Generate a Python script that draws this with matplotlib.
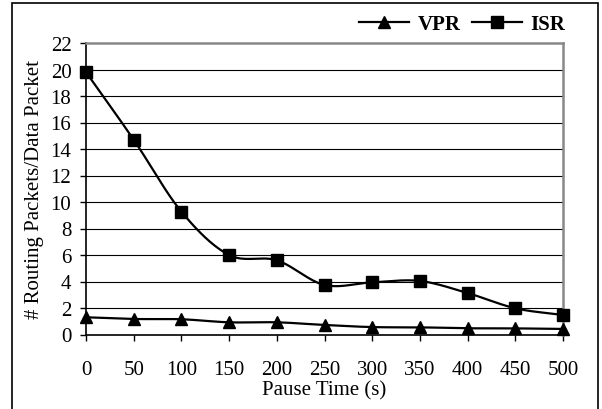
import numpy as np
import matplotlib
matplotlib.use("Agg")
import matplotlib.pyplot as plt
from matplotlib.patches import Rectangle
from matplotlib.lines import Line2D

pause_time = [0, 50, 100, 150, 200, 250, 300, 350, 400, 450, 500]
vpr = [1.30, 1.17, 1.15, 0.92, 0.92, 0.72, 0.56, 0.54, 0.47, 0.46, 0.42]
isr = [19.8, 14.7, 9.27, 6.0, 5.6, 3.74, 3.94, 4.04, 3.13, 1.98, 1.47]
y_ticks = list(range(0, 23, 2))

plt.rcParams['font.family'] = ['Liberation Serif', 'DejaVu Serif']
FS = 15

def smooth(x, y, n=20):
    # Catmull-Rom style smoothing for drawing (Excel "smoothed line")
    x = np.asarray(x, float); y = np.asarray(y, float)
    px = np.concatenate([[2*x[0]-x[1]], x, [2*x[-1]-x[-2]]])
    py = np.concatenate([[2*y[0]-y[1]], y, [2*y[-1]-y[-2]]])
    xs, ys = [], []
    for i in range(1, len(px)-2):
        t = np.linspace(0, 1, n, endpoint=False)
        for arr, out in ((px, xs), (py, ys)):
            p0, p1, p2, p3 = arr[i-1], arr[i], arr[i+1], arr[i+2]
            out.extend(0.5*((2*p1) + (-p0+p2)*t + (2*p0-5*p1+4*p2-p3)*t**2 + (-p0+3*p1-3*p2+p3)*t**3))
    xs.append(x[-1]); ys.append(y[-1])
    return np.array(xs), np.array(ys)

fig = plt.figure(figsize=(6.02, 4.10), dpi=100)
ax = fig.add_axes([86/602, 1-335.5/410, (563-86)/602, (335.5-44)/410])

for ys, mk in ((vpr, '^'), (isr, 's')):
    sx, sy = smooth(pause_time, ys)
    ax.plot(sx, sy, color='black', lw=1.6, zorder=3, clip_on=False)
    ax.plot(pause_time, ys, linestyle='none', marker=mk, color='black', ms=9, zorder=4, clip_on=False)

ax.set_xlim(0, 500)
ax.set_ylim(0, 22)
ax.set_xticks(pause_time)
ax.set_xticklabels([str(v) for v in pause_time])
ax.set_yticks(y_ticks)
ax.set_yticklabels([str(v) for v in y_ticks])
ax.tick_params(axis='both', direction='out', length=4.5, width=1, color='black', labelsize=FS)
ax.tick_params(axis='x', pad=14)
ax.tick_params(axis='y', pad=6)
for v in y_ticks[1:-1]:
    ax.axhline(v, color='black', lw=0.8, zorder=1)
ax.spines['top'].set_color('#888888')
ax.spines['right'].set_color('#888888')
ax.spines['top'].set_linewidth(1.8)
ax.spines['right'].set_linewidth(1.8)
ax.spines['left'].set_linewidth(1.2)
ax.spines['bottom'].set_linewidth(1.2)

ax.set_xlabel('Pause Time (s)', fontsize=FS, labelpad=1)
ax.set_ylabel('# Routing Packets/Data Packet', fontsize=FS, labelpad=5)

handles = [Line2D([], [], color='black', marker='^', ms=9, lw=1.6),
           Line2D([], [], color='black', marker='s', ms=9, lw=1.6)]
fig.legend(handles, ['VPR', 'ISR'], loc='center', bbox_to_anchor=(462/602, 1-25/410),
           ncol=2, frameon=False, prop={'weight': 'bold', 'size': FS},
           handlelength=2.4, columnspacing=0.55, handletextpad=0.4, borderpad=0)

fig.patches.append(Rectangle((12/602, -0.01), (598-12)/602, 1-4/410+0.01, transform=fig.transFigure,
                             fill=False, edgecolor='black', lw=1.2))

fig.savefig('out.png', dpi=100)
